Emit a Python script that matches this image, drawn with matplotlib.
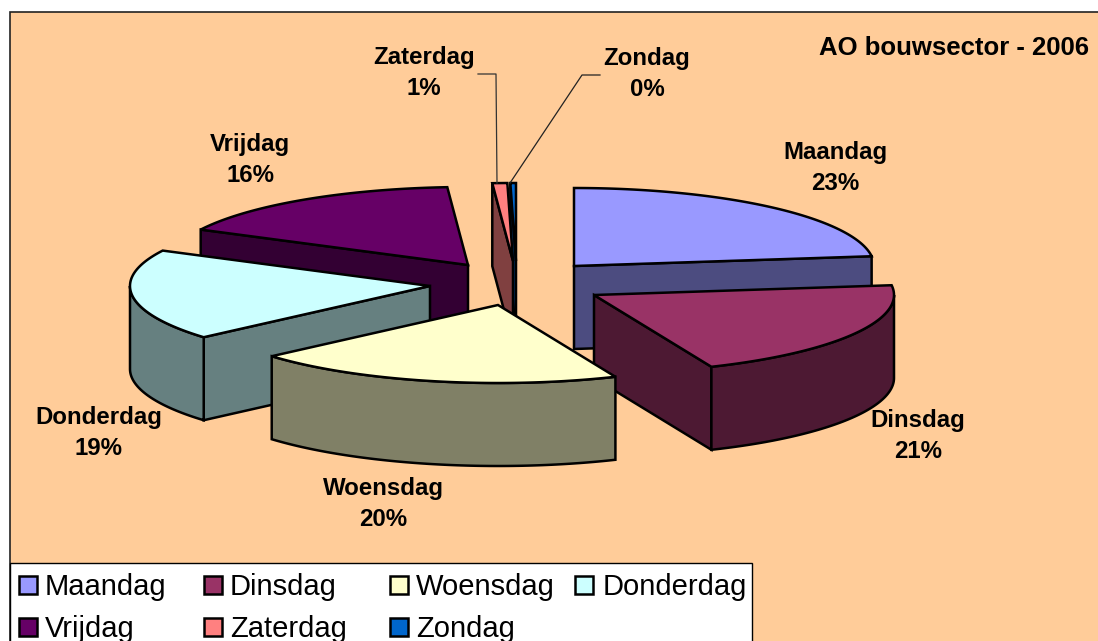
import numpy as np
import matplotlib
matplotlib.use('Agg')
import matplotlib.pyplot as plt
from matplotlib.patches import Polygon, Rectangle

plt.rcParams['font.family'] = ['Liberation Sans', 'DejaVu Sans']

# data
dagen = ['Maandag', 'Dinsdag', 'Woensdag', 'Donderdag', 'Vrijdag', 'Zaterdag', 'Zondag']
aandeel = [23.0, 20.6, 20.0, 18.9, 16.4, 0.8, 0.3]
kleuren = ['#9999FF', '#993366', '#FFFFCC', '#CCFFFF', '#660066', '#FF8080', '#0066CC']
zijkant = ['#4C4C80', '#4D1933', '#808066', '#668080', '#330033', '#804040', '#003366']
titel = 'AO bouwsector - 2006'

# layout in pixels
middens = [(574, 266), (594, 295), (498, 305), (430, 286), (468, 265), (513, 261), (516, 261)]
label_pos = [(835, 168), (918, 436), (383, 504), (99, 433), (250, 160), (424, 73), (647, 74)]
volgorde = [6, 5, 0, 4, 3, 1, 2]
rx, ry, diepte = 300, 78, 83
lw = 1.8

fig = plt.figure(figsize=(10.98, 6.41), dpi=100)
ax = fig.add_axes([0, 0, 1, 1])
ax.set_xlim(0, 1098)
ax.set_ylim(641, 0)
ax.axis('off')

ax.add_patch(Rectangle((9.5, 11.5), 1100, 640, fc='#FFCC99', ec='#222222', lw=1.2))

eind = np.cumsum(aandeel) / np.sum(aandeel) * 360
begin = np.r_[0, eind[:-1]]


def punt(c, hoek, dz=0):
    h = np.radians(hoek)
    return (c[0] + rx * np.sin(h), c[1] - ry * np.cos(h) + dz)


def taartstuk(i):
    c = middens[i]
    a, b = begin[i], eind[i]
    stijl = dict(ec='black', lw=lw, joinstyle='miter')
    # snijvlakken
    if np.sin(np.radians(a)) < 0:
        ax.add_patch(Polygon([c, punt(c, a), punt(c, a, diepte), (c[0], c[1] + diepte)],
                             fc=zijkant[i], **stijl))
    if np.sin(np.radians(b)) > 0:
        ax.add_patch(Polygon([c, punt(c, b), punt(c, b, diepte), (c[0], c[1] + diepte)],
                             fc=zijkant[i], **stijl))
    # buitenrand, alleen de voorkant
    a2, b2 = max(a, 90), min(b, 270)
    if a2 < b2:
        hoeken = np.linspace(a2, b2, 80)
        rand = [punt(c, h) for h in hoeken] + [punt(c, h, diepte) for h in hoeken[::-1]]
        ax.add_patch(Polygon(rand, fc=zijkant[i], **stijl))
    # bovenkant
    hoeken = np.linspace(a, b, 120)
    ax.add_patch(Polygon([c] + [punt(c, h) for h in hoeken], fc=kleuren[i], **stijl))


for i in volgorde:
    taartstuk(i)

# lijnen naar de labels
ax.plot([478, 496, 497], [74, 74, 183], color='#333333', lw=0.9)
ax.plot([600, 582, 510], [75, 75, 183], color='#222222', lw=0.9)

for naam, w, (x, y) in zip(dagen, aandeel, label_pos):
    ax.text(x, y, f'{naam}\n{round(w)}%', ha='center', va='center', fontsize=17.3,
            fontweight='bold', linespacing=1.42)
ax.text(1089, 48, titel, ha='right', va='center', fontsize=18.5, fontweight='bold')

# legenda
ax.add_patch(Rectangle((9.5, 562.5), 742.5, 90, fc='white', ec='black', lw=1.0, zorder=5))
kol_x = [19, 204, 390, 575]
rij_y = [585, 627]
for i, naam in enumerate(dagen):
    x = kol_x[i % 4]
    y = rij_y[i // 4]
    ax.add_patch(Rectangle((x, y - 9), 18, 18, fc=kleuren[i], ec='black', lw=1.8, zorder=6))
    ax.text(x + 26 + (2 if i % 4 == 3 else 0), y + 2, naam, ha='left', va='center',
            fontsize=21, zorder=6)

fig.savefig('out.png', dpi=100)
